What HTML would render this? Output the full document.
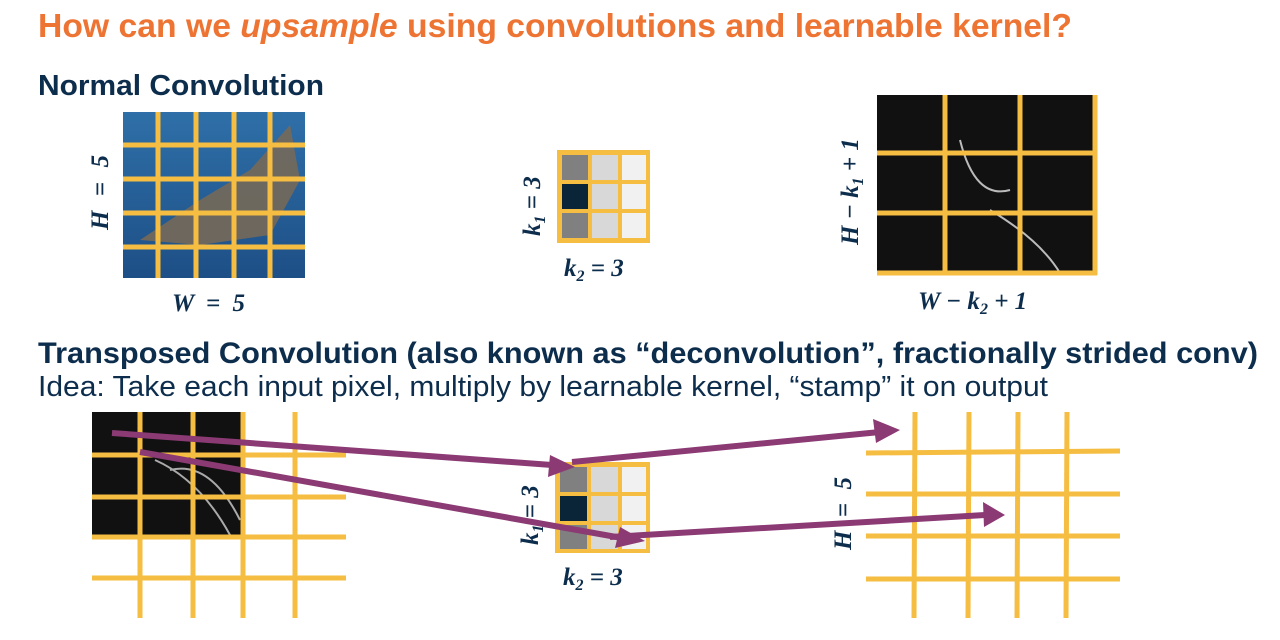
<!DOCTYPE html>
<html><head><meta charset="utf-8"><style>
body{margin:0;width:1280px;height:635px;background:#fff;overflow:hidden;font-family:"Liberation Sans",sans-serif;}
</style></head><body>
<svg width="1280" height="635" xmlns="http://www.w3.org/2000/svg">
<defs>
<linearGradient id="w" x1="0" y1="0" x2="0" y2="1"><stop offset="0" stop-color="#2f6fa8"/><stop offset="1" stop-color="#1d4f86"/></linearGradient>
</defs>
<text x="38" y="37" font-size="33" font-weight="bold" fill="#ee7433" textLength="1034" lengthAdjust="spacingAndGlyphs">How can we <tspan font-style="italic">upsample</tspan> using convolutions and learnable kernel?</text>
<text x="38" y="95" font-size="29" font-weight="bold" fill="#0d2d4d" textLength="286" lengthAdjust="spacingAndGlyphs">Normal Convolution</text>
<!-- top-left image -->
<rect x="123" y="112" width="182" height="166" fill="url(#w)"/>
<path d="M140 240 L200 200 L250 170 L290 125 L300 180 L270 235 L200 245 Z" fill="#7a6a55" opacity="0.85"/>
<g stroke="#f5bd42" stroke-width="5">
<line x1="158" y1="112" x2="158" y2="278"/><line x1="196" y1="112" x2="196" y2="278"/><line x1="234" y1="112" x2="234" y2="278"/><line x1="270" y1="112" x2="270" y2="278"/>
<line x1="123" y1="145" x2="305" y2="145"/><line x1="123" y1="179" x2="305" y2="179"/><line x1="123" y1="213" x2="305" y2="213"/><line x1="123" y1="247" x2="305" y2="247"/>
</g>
<text x="172" y="311" font-family="Liberation Serif,serif" font-size="25" font-weight="bold" font-style="italic" fill="#0d2d4d" textLength="73" lengthAdjust="spacing">W = 5</text>
<text transform="translate(108,230) rotate(-90)" font-family="Liberation Serif,serif" font-size="25" font-weight="bold" font-style="italic" fill="#0d2d4d" textLength="75" lengthAdjust="spacing">H = 5</text>
<!-- top kernel -->
<g>
<rect x="557" y="150" width="93" height="93" fill="#f5bd42"/>
<rect x="562" y="155" width="26" height="25" fill="#808080"/><rect x="592" y="155" width="26" height="25" fill="#d8d8d8"/><rect x="622" y="155" width="24" height="25" fill="#f1f1f1"/>
<rect x="562" y="184" width="26" height="25" fill="#0b2538"/><rect x="592" y="184" width="26" height="25" fill="#d8d8d8"/><rect x="622" y="184" width="24" height="25" fill="#f1f1f1"/>
<rect x="562" y="213" width="26" height="25" fill="#808080"/><rect x="592" y="213" width="26" height="25" fill="#d8d8d8"/><rect x="622" y="213" width="24" height="25" fill="#f1f1f1"/>
</g>
<text x="564" y="276" font-family="Liberation Serif,serif" font-size="25" font-weight="bold" font-style="italic" fill="#0d2d4d">k<tspan font-size="16" dy="5">2</tspan><tspan dy="-5"> = 3</tspan></text>
<text transform="translate(540,236) rotate(-90)" font-family="Liberation Serif,serif" font-size="25" font-weight="bold" font-style="italic" fill="#0d2d4d">k<tspan font-size="16" dy="5">1</tspan><tspan dy="-5"> = 3</tspan></text>
<!-- top-right image -->
<rect x="877" y="95" width="218" height="178" fill="#111"/>
<path d="M960 140 Q975 200 1010 190 M990 210 Q1040 240 1060 273" stroke="#bbb" stroke-width="2" fill="none"/>
<g stroke="#f5bd42" stroke-width="5">
<line x1="945" y1="95" x2="945" y2="273"/><line x1="1020" y1="95" x2="1020" y2="273"/><line x1="1095" y1="95" x2="1095" y2="275"/>
<line x1="877" y1="153" x2="1095" y2="153"/><line x1="877" y1="213" x2="1095" y2="213"/><line x1="877" y1="273" x2="1097" y2="273"/>
</g>
<text x="918" y="309" font-family="Liberation Serif,serif" font-size="25" font-weight="bold" font-style="italic" fill="#0d2d4d">W − k<tspan font-size="16" dy="5">2</tspan><tspan dy="-5"> + 1</tspan></text>
<text transform="translate(858,245) rotate(-90)" font-family="Liberation Serif,serif" font-size="25" font-weight="bold" font-style="italic" fill="#0d2d4d">H − k<tspan font-size="16" dy="5">1</tspan><tspan dy="-5"> + 1</tspan></text>
<text x="38" y="363" font-size="30" font-weight="bold" fill="#0d2d4d" textLength="1220" lengthAdjust="spacingAndGlyphs">Transposed Convolution (also known as “deconvolution”, fractionally strided conv)</text>
<text x="38" y="396" font-size="29" fill="#0d2d4d" textLength="1010" lengthAdjust="spacingAndGlyphs">Idea: Take each input pixel, multiply by learnable kernel, “stamp” it on output</text>
<!-- bottom-left -->
<rect x="92" y="412" width="150" height="123" fill="#111"/>
<path d="M155 460 Q200 480 230 535 M170 470 Q210 460 240 520" stroke="#aaa" stroke-width="2" fill="none"/>
<g stroke="#f5bd42" stroke-width="5">
<line x1="140" y1="412" x2="140" y2="618"/><line x1="193" y1="412" x2="193" y2="618"/><line x1="243" y1="412" x2="243" y2="618"/><line x1="295" y1="412" x2="295" y2="618"/>
<line x1="92" y1="455" x2="346" y2="455"/><line x1="92" y1="497" x2="346" y2="497"/><line x1="92" y1="537" x2="346" y2="537"/><line x1="92" y1="578" x2="346" y2="578"/>
</g>
<!-- bottom kernel -->
<rect x="555" y="462" width="95" height="91" fill="#f5bd42"/>
<rect x="560" y="467" width="27" height="25" fill="#808080"/><rect x="591" y="467" width="27" height="25" fill="#d8d8d8"/><rect x="622" y="467" width="24" height="25" fill="#f1f1f1"/>
<rect x="560" y="496" width="27" height="25" fill="#0b2538"/><rect x="591" y="496" width="27" height="25" fill="#d8d8d8"/><rect x="622" y="496" width="24" height="25" fill="#f1f1f1"/>
<rect x="560" y="525" width="27" height="24" fill="#808080"/><rect x="591" y="525" width="27" height="24" fill="#d8d8d8"/><rect x="622" y="525" width="24" height="24" fill="#f1f1f1"/>
<text x="563" y="585" font-family="Liberation Serif,serif" font-size="25" font-weight="bold" font-style="italic" fill="#0d2d4d">k<tspan font-size="16" dy="5">2</tspan><tspan dy="-5"> = 3</tspan></text>
<text transform="translate(538,545) rotate(-90)" font-family="Liberation Serif,serif" font-size="25" font-weight="bold" font-style="italic" fill="#0d2d4d">k<tspan font-size="16" dy="5">1</tspan><tspan dy="-5"> = 3</tspan></text>
<!-- bottom-right -->
<g stroke="#f5bd42" stroke-width="5">
<line x1="915" y1="412" x2="914" y2="618"/><line x1="969" y1="412" x2="968" y2="618"/><line x1="1018" y1="412" x2="1017" y2="618"/><line x1="1067" y1="412" x2="1066" y2="618"/>
<line x1="866" y1="453" x2="1120" y2="451"/><line x1="866" y1="494" x2="1120" y2="494"/><line x1="866" y1="536" x2="1120" y2="536"/><line x1="866" y1="579" x2="1120" y2="579"/>
</g>
<text transform="translate(851,550) rotate(-90)" font-family="Liberation Serif,serif" font-size="25" font-weight="bold" font-style="italic" fill="#0d2d4d" textLength="73" lengthAdjust="spacing">H = 5</text>
<!-- arrows -->
<g stroke="#8b3a74" stroke-width="6" fill="none" stroke-linecap="butt">
<line x1="112" y1="433" x2="552" y2="465"/>
<line x1="140" y1="452" x2="622" y2="538"/>
<line x1="572" y1="462" x2="880" y2="432"/>
<line x1="610" y1="537" x2="985" y2="515"/>
</g>
<g fill="#8b3a74">
<polygon points="575,467 550,455 548,477"/>
<polygon points="645,541 620,527 615,548"/>
<polygon points="900,430 873,419 876,443"/>
<polygon points="1005,515 983,502 984,527"/>
</g>
</svg>
</body></html>
